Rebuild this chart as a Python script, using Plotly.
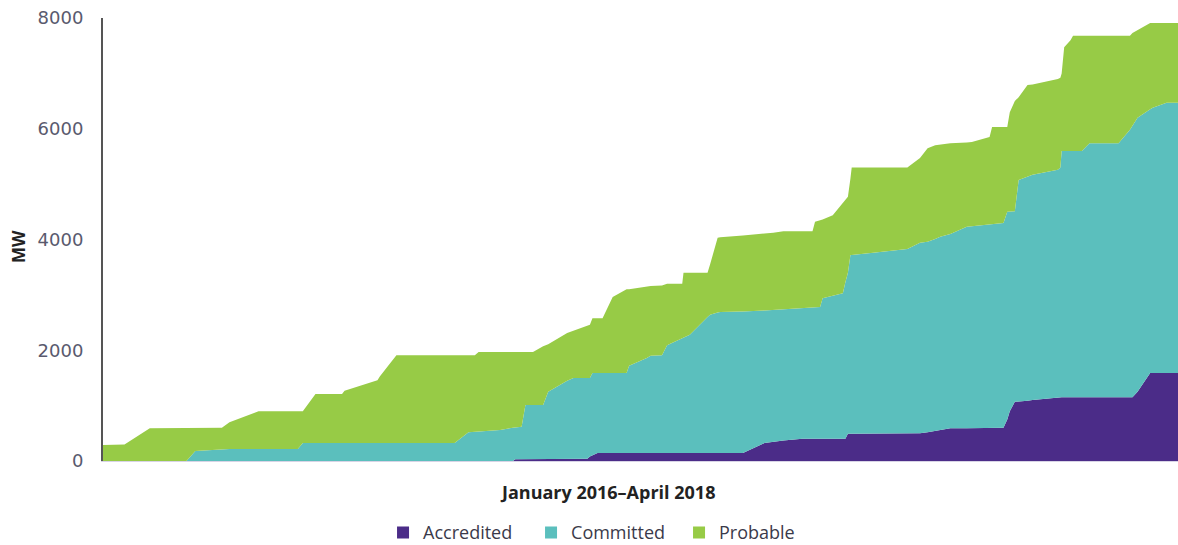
import pandas as pd
import plotly.graph_objects as go

# Days since 1 January 2016
day = [0, 17, 37, 66, 73, 93, 94, 100, 123, 154, 158, 168, 189, 191, 217, 219, 232,
       278, 289, 294, 297, 314, 324, 326, 327, 331, 334, 340, 348, 352, 367, 372, 383,
       385, 387, 391, 395, 403, 414, 416, 427, 430, 433, 442, 446, 458, 459, 464, 478,
       480, 486, 488, 504, 506, 523, 530, 538, 553, 561, 563, 567, 569, 577, 585, 587,
       589, 591, 592, 609, 636, 646, 652, 658, 662, 670, 683, 687, 701, 703, 711, 712,
       715, 717, 721, 724, 731, 735, 746, 755, 757, 758, 760, 765, 767, 774, 780, 803,
       812, 814, 818, 828, 830, 841, 850]

accredited = [0, 0, 0, 0, 0, 0, 0, 0, 0, 0, 0, 0, 0, 0, 0, 0, 0,
              0, 0, 0, 0, 0, 0, 30, 30, 30, 30, 30, 30, 30, 30, 35, 40,
              80, 100, 145, 145, 145, 145, 145, 145, 145, 145, 145, 145, 145, 145, 145, 145,
              145, 145, 145, 145, 145, 325, 350, 370, 400, 400, 400, 400, 400, 400, 400, 400,
              490, 490, 490, 490, 490, 500, 520, 540, 560, 590, 590, 590, 590, 590, 590, 600,
              750, 900, 1070, 1080, 1090, 1100, 1130, 1150, 1150, 1150, 1150, 1150, 1150, 1150, 1150, 1150,
              1150, 1150, 1250, 1590, 1590, 1590, 1590]

committed = [0, 0, 0, 0, 180, 210, 215, 215, 215, 215, 325, 325, 325, 325, 325, 325, 325,
             325, 520, 530, 535, 560, 600, 575, 580, 590, 980, 980, 980, 1220, 1420, 1465, 1460,
             1420, 1490, 1445, 1445, 1445, 1445, 1575, 1675, 1715, 1755, 1765, 1945, 2075, 2085, 2135, 2455,
             2495, 2535, 2545, 2555, 2555, 2395, 2380, 2370, 2360, 2370, 2370, 2380, 2540, 2590, 2630, 2830,
             2910, 3230, 3230, 3270, 3340, 3440, 3440, 3470, 3490, 3510, 3640, 3650, 3690, 3690, 3710, 3700,
             3750, 3600, 3440, 3995, 4050, 4070, 4090, 4110, 4150, 4450, 4450, 4450, 4450, 4450, 4590, 4590,
             4830, 4900, 4950, 4760, 4790, 4880, 4880]

probable = [290, 300, 590, 590, 410, 380, 385, 485, 685, 685, 575, 885, 885, 945, 1135, 1205, 1585,
            1585, 1390, 1380, 1435, 1410, 1370, 1365, 1360, 1350, 960, 960, 1060, 860, 860, 850, 940,
            960, 990, 990, 990, 1370, 1510, 1380, 1320, 1300, 1260, 1260, 1110, 980, 1170, 1120, 800,
            910, 1350, 1350, 1360, 1370, 1390, 1390, 1410, 1390, 1380, 1550, 1560, 1420, 1450, 1620, 1490,
            1370, 1380, 1580, 1540, 1470, 1530, 1690, 1690, 1660, 1640, 1520, 1520, 1570, 1750, 1730, 1730,
            1530, 1800, 1990, 1495, 1650, 1630, 1630, 1640, 1620, 1400, 1870, 2000, 2080, 2080, 1940, 1940,
            1700, 1680, 1580, 1560, 1530, 1440, 1440]

series_names = ["Accredited", "Committed", "Probable"]
series_colors = ["#4B2C88", "#5BBFBD", "#97CB46"]
y_ticks = [0, 2000, 4000, 6000, 8000]

dates = pd.Timestamp("2016-01-01") + pd.to_timedelta(day, unit="D")

fig = go.Figure()
for name, vals, col in zip(series_names, [accredited, committed, probable], series_colors):
    fig.add_trace(go.Scatter(
        x=dates, y=vals, name=name, stackgroup="one", mode="lines",
        line=dict(width=0, color=col), fillcolor=col, showlegend=False,
        hoverinfo="x+y+name"))

for name, col in zip(series_names, series_colors):
    fig.add_trace(go.Scatter(
        x=[None], y=[None], mode="markers", name=name,
        marker=dict(symbol="square", size=16, color=col)))

fig.update_layout(
    width=1178, height=545,
    margin=dict(l=103, r=0, t=18, b=84, autoexpand=False),
    paper_bgcolor="white", plot_bgcolor="white",
    font=dict(family="Open Sans, sans-serif", color="#333333"),
    showlegend=True,
    legend=dict(orientation="h", traceorder="normal", x=0.2605, xanchor="left",
                y=-0.162, yanchor="middle",
                font=dict(size=18, color="#3a3a4a"), entrywidth=103, entrywidthmode="pixels",
                itemsizing="constant"),
    xaxis=dict(range=[pd.Timestamp("2016-01-01"), pd.Timestamp("2018-04-30")],
               showticklabels=False, ticks="", showgrid=False, zeroline=False,
               showline=True, linecolor="#d8d4e6", linewidth=1),
    yaxis=dict(range=[0, 8000], tickvals=y_ticks, showgrid=False, zeroline=False,
               showline=True, linecolor="#555555", linewidth=2, ticks="",
               ticklabelstandoff=14,
               tickfont=dict(size=18, family="DejaVu Sans, sans-serif", color="#5a5a6e")),
    annotations=[
        dict(text="<b>January 2016–April 2018</b>", x=0.469, y=-0.070, xref="paper", yref="paper",
             showarrow=False, font=dict(size=18, color="#222222"), xanchor="center", yanchor="middle"),
        dict(text="<b>MW</b>", x=-0.079, y=0.483, xref="paper", yref="paper", textangle=-90,
             showarrow=False, font=dict(size=17, color="#222222"), xanchor="center", yanchor="middle"),
    ],
)

fig.write_html("out.html", config={"displayModeBar": False},
               post_script="document.body.style.margin='0';")
